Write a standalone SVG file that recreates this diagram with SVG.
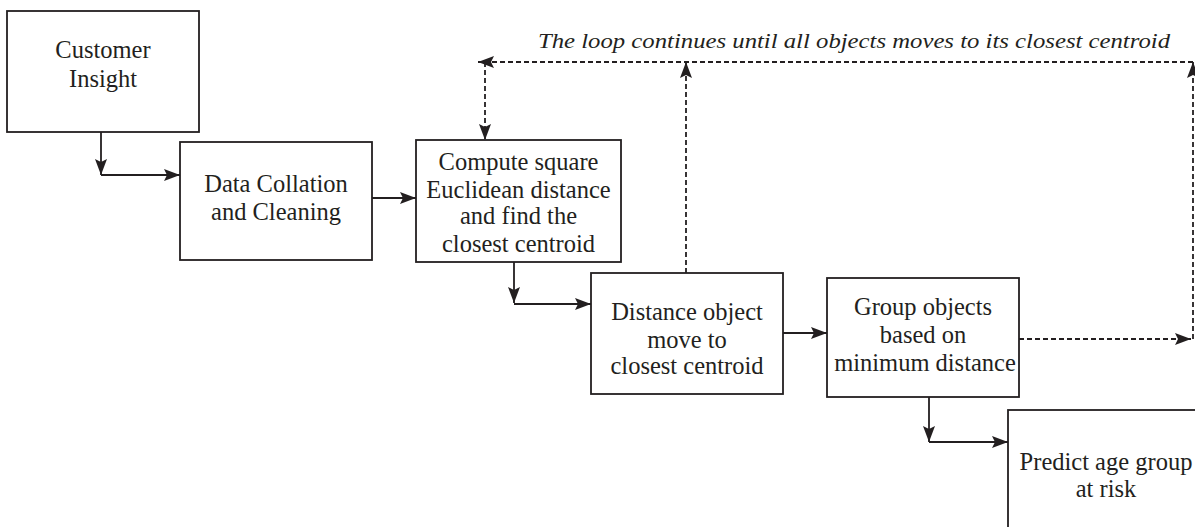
<svg xmlns="http://www.w3.org/2000/svg" width="1195" height="527" viewBox="0 0 1195 527">
<defs>
<marker id="ah" viewBox="0 0 16 12" refX="16" refY="6" markerWidth="16" markerHeight="12" markerUnits="userSpaceOnUse" orient="auto">
<path d="M0,0 L16,6 L0,12 L3,6 z" fill="#231f20"/>
</marker>
<style>
.box{fill:#fff;stroke:#231f20;stroke-width:1.8}
.t{font-family:"Liberation Serif","Times New Roman",serif;font-size:24.5px;fill:#231f20;text-anchor:middle}
.c{fill:none;stroke:#231f20;stroke-width:1.8;marker-end:url(#ah)}
.d{stroke-dasharray:5,3}
.loop{font-family:"Liberation Serif","Times New Roman",serif;font-style:italic;font-size:22px;fill:#231f20}
</style>
</defs>
<rect width="1195" height="527" fill="#fff"/>
<g id="connectors">
<path class="c" d="M101,132 V175"/>
<path class="c" d="M101,175 H180"/>
<path class="c" d="M372,198 H416"/>
<path class="c" d="M514,262 V303"/>
<path class="c" d="M514,304 H591"/>
<path class="c" d="M783,333 H827"/>
<path class="c" d="M929,397 V442"/>
<path class="c" d="M929,442 H1008"/>
<path class="c d" d="M1019,339 H1191"/>
<path class="c d" d="M1193,339 V62"/>
<path class="c d" d="M1193,62 H478"/>
<path class="c d" d="M485,62 V140"/>
<path class="c d" d="M686,273 V62"/>
<text class="loop" x="538" y="48" textLength="632" lengthAdjust="spacingAndGlyphs">The loop continues until all objects moves to its closest centroid</text>
</g>
<g id="customer">
<rect class="box" x="7" y="11" width="192" height="121"/>
<text class="t" x="103" y="58">Customer</text>
<text class="t" x="103" y="87">Insight</text>
</g>
<g id="data">
<rect class="box" x="180" y="142" width="192" height="118"/>
<text class="t" x="276" y="192">Data Collation</text>
<text class="t" x="276" y="220">and Cleaning</text>
</g>
<g id="compute">
<rect class="box" x="416" y="140" width="205" height="122"/>
<text class="t" x="518.5" y="170">Compute square</text>
<text class="t" x="518.5" y="198">Euclidean distance</text>
<text class="t" x="518.5" y="224">and find the</text>
<text class="t" x="518.5" y="252">closest centroid</text>
</g>
<g id="distance">
<rect class="box" x="591" y="273" width="192" height="121"/>
<text class="t" x="687" y="320">Distance object</text>
<text class="t" x="687" y="348">move to</text>
<text class="t" x="687" y="374">closest centroid</text>
</g>
<g id="group">
<rect class="box" x="827" y="278" width="192" height="119"/>
<text class="t" x="923" y="315">Group objects</text>
<text class="t" x="923" y="343">based on</text>
<text class="t" x="925" y="371">minimum distance</text>
</g>
<g id="predict">
<rect class="box" x="1008" y="410" width="200" height="130"/>
<text class="t" x="1106" y="470">Predict age group</text>
<text class="t" x="1106" y="497">at risk</text>
</g>
</svg>
